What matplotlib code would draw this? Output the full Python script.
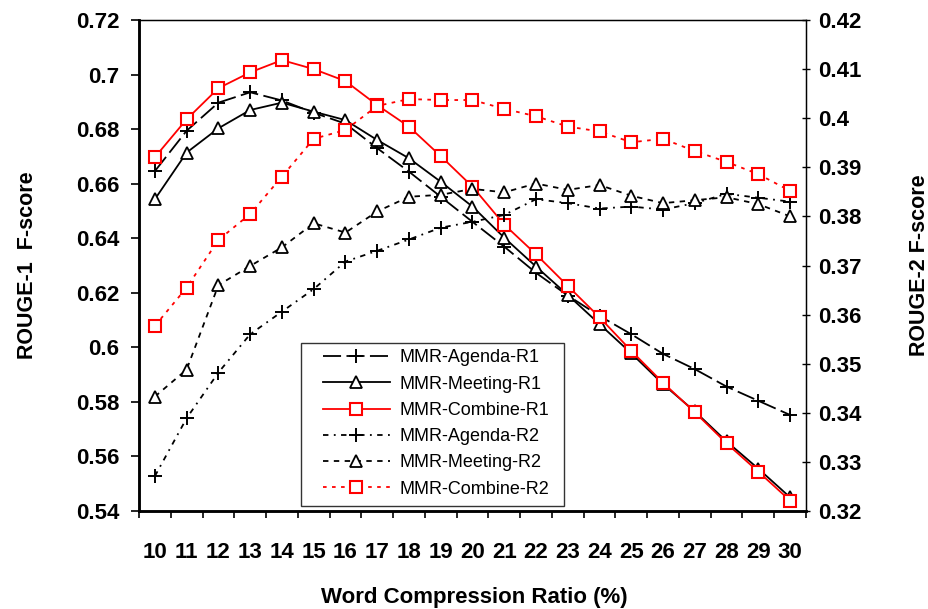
import numpy as np
import matplotlib
matplotlib.use("Agg")
import matplotlib.pyplot as plt
from matplotlib.patches import Rectangle
from matplotlib.ticker import FixedLocator, FuncFormatter

plt.rcParams['font.family'] = ['Liberation Sans', 'DejaVu Sans']

# word compression ratio (%)
ratio = list(range(10, 31))

# ROUGE-1 (left axis)
agenda_r1 = [0.6646, 0.6794, 0.6897, 0.6935, 0.6905, 0.6860, 0.6820, 0.6730, 0.6644, 0.6552, 0.6460,
             0.6369, 0.6273, 0.6190, 0.6115, 0.6048, 0.5976, 0.5920, 0.5856, 0.5804, 0.5752]
meeting_r1 = [0.6543, 0.6714, 0.6803, 0.6870, 0.6897, 0.6864, 0.6833, 0.6760, 0.6693, 0.6607, 0.6516,
              0.6402, 0.6296, 0.6192, 0.6085, 0.5978, 0.5865, 0.5765, 0.5655, 0.5555, 0.5450]
combine_r1 = [0.6697, 0.6836, 0.6950, 0.7008, 0.7053, 0.7020, 0.6976, 0.6888, 0.6809, 0.6701, 0.6589,
              0.6450, 0.6341, 0.6225, 0.6110, 0.5987, 0.5870, 0.5762, 0.5648, 0.5544, 0.5438]

# ROUGE-2 (right axis)
agenda_r2 = [0.3271, 0.3389, 0.3482, 0.3560, 0.3606, 0.3652, 0.3708, 0.3730, 0.3753, 0.3777, 0.3789,
             0.3803, 0.3835, 0.3827, 0.3816, 0.3820, 0.3814, 0.3827, 0.3846, 0.3838, 0.3830]
meeting_r2 = [0.3433, 0.3488, 0.3660, 0.3699, 0.3737, 0.3786, 0.3767, 0.3810, 0.3840, 0.3844, 0.3856,
              0.3849, 0.3867, 0.3854, 0.3864, 0.3842, 0.3827, 0.3833, 0.3839, 0.3825, 0.3800]
combine_r2 = [0.3577, 0.3655, 0.3752, 0.3805, 0.3881, 0.3958, 0.3976, 0.4025, 0.4039, 0.4037, 0.4037,
              0.4019, 0.4004, 0.3983, 0.3973, 0.3951, 0.3958, 0.3933, 0.3911, 0.3886, 0.3852]

left_ticks = [0.54, 0.56, 0.58, 0.6, 0.62, 0.64, 0.66, 0.68, 0.7, 0.72]
right_ticks = [0.32, 0.33, 0.34, 0.35, 0.36, 0.37, 0.38, 0.39, 0.4, 0.41, 0.42]

fig = plt.figure(figsize=(9.29, 6.09), dpi=100)
ax = fig.add_axes([139 / 929, 1 - 511 / 609, 667 / 929, 491 / 609])
ax2 = ax.twinx()

lw = 1.3
sq = dict(marker='s', ms=8, mfc='white', mec='red', mew=1.5)
tri = dict(marker='^', ms=9, mfc='white', mec='black', mew=1.3)
plus = dict(marker='+', ms=10, mec='black', mew=1.4)

h = []
h += ax.plot(ratio, agenda_r1, color='black', lw=lw, ls=(0, (10, 3)), label='MMR-Agenda-R1', **plus)
h += ax.plot(ratio, meeting_r1, color='black', lw=lw, label='MMR-Meeting-R1', **tri)
h += ax.plot(ratio, combine_r1, color='red', lw=lw, label='MMR-Combine-R1', **sq)
h += ax2.plot(ratio, agenda_r2, color='black', lw=lw, ls=(0, (3, 3, 1, 3)), label='MMR-Agenda-R2', **plus)
h += ax2.plot(ratio, meeting_r2, color='black', lw=lw, ls=(0, (3, 3)), label='MMR-Meeting-R2', **tri)
h += ax2.plot(ratio, combine_r2, color='red', lw=lw, ls=(0, (2, 3)), label='MMR-Combine-R2', **sq)

ax.set_xlim(9.5, 30.5)
ax.set_ylim(0.54, 0.72)
ax2.set_ylim(0.32, 0.42)

fmt = FuncFormatter(lambda v, p: ('%.2f' % v).rstrip('0'))
ax.set_yticks(left_ticks)
ax.yaxis.set_major_formatter(fmt)
ax2.set_yticks(right_ticks)
ax2.yaxis.set_major_formatter(fmt)

ax.set_xticks(ratio)
ax.set_xticklabels([str(r) for r in ratio])
ax.xaxis.set_minor_locator(FixedLocator(np.arange(9.5, 31, 1)))
ax.tick_params(axis='x', which='major', length=0, pad=22, labelsize=16)
ax.tick_params(axis='x', which='minor', length=5, width=1.2, direction='out')
ax.tick_params(axis='y', length=6, width=1.2, direction='out', pad=8, labelsize=16)
ax2.tick_params(axis='y', length=6, width=1.0, direction='inout', pad=6, labelsize=16)
for lab in ax.get_xticklabels() + ax.get_yticklabels() + ax2.get_yticklabels():
    lab.set_fontweight('bold')

for s in ['left', 'bottom']:
    ax.spines[s].set_linewidth(1.8)
for s in ['top', 'right']:
    ax2.spines[s].set_linewidth(1.0)
ax2.spines['left'].set_linewidth(1.8)
ax2.spines['bottom'].set_linewidth(1.8)

fig.text(28 / 929, 1 - 265 / 609, 'ROUGE-1  F-score', rotation=90, ha='center', va='center',
         fontsize=15.5, fontweight='bold')
fig.text(920 / 929, 1 - 265 / 609, 'ROUGE-2 F-score', rotation=90, ha='center', va='center',
         fontsize=15.5, fontweight='bold')
fig.text(474 / 929, 1 - 597 / 609, 'Word Compression Ratio (%)', ha='center', va='center',
         fontsize=16, fontweight='bold')

# legend box drawn separately so its padding matches
box = Rectangle((162 / 667, 5 / 491), 263 / 667, 163 / 491, transform=ax2.transAxes,
                facecolor='white', edgecolor='#333333', lw=1.0, zorder=5)
ax2.add_patch(box)
leg = ax2.legend(handles=h, loc='upper left', bbox_to_anchor=(184 / 667, 161.5 / 491), fontsize=13,
                 frameon=False, handlelength=3.7, handletextpad=0.55, labelspacing=0.51,
                 borderpad=0, borderaxespad=0)
leg.set_zorder(6)

fig.savefig('out.png', dpi=100)
